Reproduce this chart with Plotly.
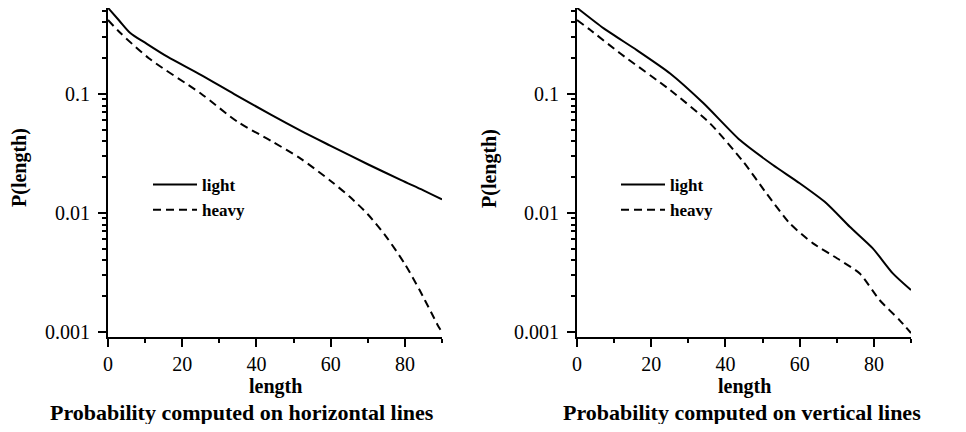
import plotly.graph_objects as go

# ---- data ----
h_light_len = [0, 3, 6, 10, 16, 25, 34, 44, 52, 60, 70, 79, 85, 90]
h_light_p = [0.53, 0.415, 0.326, 0.27, 0.206, 0.145, 0.1, 0.0667, 0.049, 0.0367, 0.0257, 0.0189, 0.0155, 0.013]

h_heavy_len = [0, 3, 11, 25, 35, 44, 52, 60, 65, 70, 75, 80, 84, 87, 89, 90]
h_heavy_p = [0.419, 0.334, 0.2, 0.101, 0.0582, 0.0403, 0.0285, 0.0186, 0.0138, 0.00977,
             0.0063, 0.00372, 0.00224, 0.00148, 0.00112, 0.001]

v_light_len = [0, 7.2, 16.1, 25.1, 34.1, 43.9, 52.8, 60, 67.2, 73.5, 79.7, 85.1, 90]
v_light_p = [0.53, 0.356, 0.234, 0.149, 0.0836, 0.041, 0.0253, 0.0178, 0.0121, 0.00767, 0.00505, 0.00311, 0.00225]

v_heavy_len = [0, 3.6, 11.6, 25.1, 35.8, 44.8, 51, 57.3, 63.6, 70.8, 76.2, 81.5, 86.9, 90]
v_heavy_p = [0.419, 0.345, 0.22, 0.108, 0.0568, 0.027, 0.0147, 0.0082, 0.00556, 0.00403,
             0.0031, 0.00186, 0.00126, 0.00098]

x_ticks = [0, 20, 40, 60, 80]
x_minor = [10, 30, 50, 70, 90]
y_ticks = [0.001, 0.01, 0.1]
y_ticktext = ["0.001", "0.01", "0.1"]
y_minor = [m * d for d in (0.001, 0.01, 0.1) for m in range(2, 10)]

titles = ["Probability computed on horizontal lines", "Probability computed on vertical lines"]
x_label = "length"
y_label = "P(length)"

# ---- layout geometry (page pixels; the page body has an 8px margin) ----
OFF = 8
W, H = 966 - 2 * OFF, 432 - 2 * OFF
FONT = "Liberation Serif"

def px(x):
    return (x - OFF) / W

def py(y):
    return 1 - (y - OFF) / H

fig = go.Figure()

dash = "8px,5px"
common = dict(mode="lines", line_shape="spline")
fig.add_trace(go.Scatter(x=h_light_len, y=h_light_p, name="light", **common,
                         line=dict(color="black", width=2, smoothing=0.8), xaxis="x", yaxis="y", legend="legend"))
fig.add_trace(go.Scatter(x=h_heavy_len, y=h_heavy_p, name="heavy", **common,
                         line=dict(color="black", width=2, dash=dash, smoothing=0.8), xaxis="x", yaxis="y", legend="legend"))
fig.add_trace(go.Scatter(x=v_light_len, y=v_light_p, name="light", **common,
                         line=dict(color="black", width=2, smoothing=0.6), xaxis="x2", yaxis="y2", legend="legend2"))
fig.add_trace(go.Scatter(x=v_heavy_len, y=v_heavy_p, name="heavy", **common,
                         line=dict(color="black", width=2, dash=dash, smoothing=0.6), xaxis="x2", yaxis="y2", legend="legend2"))

tickfont = dict(family=FONT, size=20, color="black")

def xaxis(dom, anchor):
    return dict(domain=dom, anchor=anchor, range=[0, 90], tickvals=x_ticks, automargin=False,
                ticks="outside", ticklen=8, tickwidth=2, tickcolor="black",
                showline=True, linecolor="black", linewidth=2, showgrid=False, zeroline=False,
                tickfont=tickfont,
                minor=dict(tickvals=x_minor, ticks="outside", ticklen=4, tickwidth=2, tickcolor="black", showgrid=False))

def yaxis(anchor):
    return dict(domain=[py(337), py(8)], anchor=anchor, type="log", range=[-3.042, -0.277],
                tickvals=y_ticks, ticktext=y_ticktext, automargin=False,
                ticks="outside", ticklen=8, tickwidth=2, tickcolor="black",
                showline=True, linecolor="black", linewidth=2, showgrid=False, zeroline=False,
                tickfont=tickfont, ticklabelstandoff=4,
                minor=dict(tickvals=y_minor, ticks="outside", ticklen=4, tickwidth=2, tickcolor="black", showgrid=False))

legfont = dict(family=FONT, size=17, color="black", weight="bold")

fig.update_layout(
    width=W, height=H,
    margin=dict(l=0, r=0, t=0, b=0, autoexpand=False),
    paper_bgcolor="white", plot_bgcolor="white",
    xaxis=xaxis([px(108), px(442)], "y"),
    yaxis=yaxis("x"),
    xaxis2=xaxis([px(577), px(911)], "y2"),
    yaxis2=yaxis("x2"),
    legend=dict(x=px(148), y=py(167), xanchor="left", yanchor="top", font=legfont,
                bgcolor="rgba(0,0,0,0)", tracegroupgap=0, itemwidth=44),
    legend2=dict(x=px(616), y=py(167), xanchor="left", yanchor="top", font=legfont,
                 bgcolor="rgba(0,0,0,0)", tracegroupgap=0, itemwidth=44),
    showlegend=True,
)

ann = []
for cx, t in ((241.5, titles[0]), (741.5, titles[1])):
    ann.append(dict(text=t, x=px(cx), y=py(412), xref="paper", yref="paper", showarrow=False,
                    xanchor="center", yanchor="middle",
                    font=dict(family=FONT, size=22, color="black", weight="bold")))
for cx in (275, 744):
    ann.append(dict(text=x_label, x=px(cx), y=py(386), xref="paper", yref="paper", showarrow=False,
                    xanchor="center", yanchor="middle",
                    font=dict(family=FONT, size=20, color="black", weight="bold")))
for cx in (19, 489):
    ann.append(dict(text=y_label, x=px(cx), y=py(168), xref="paper", yref="paper", showarrow=False,
                    xanchor="center", yanchor="middle", textangle=-90,
                    font=dict(family=FONT, size=20, color="black", weight="bold")))
fig.update_layout(annotations=ann)

fig.write_html("out.html")
